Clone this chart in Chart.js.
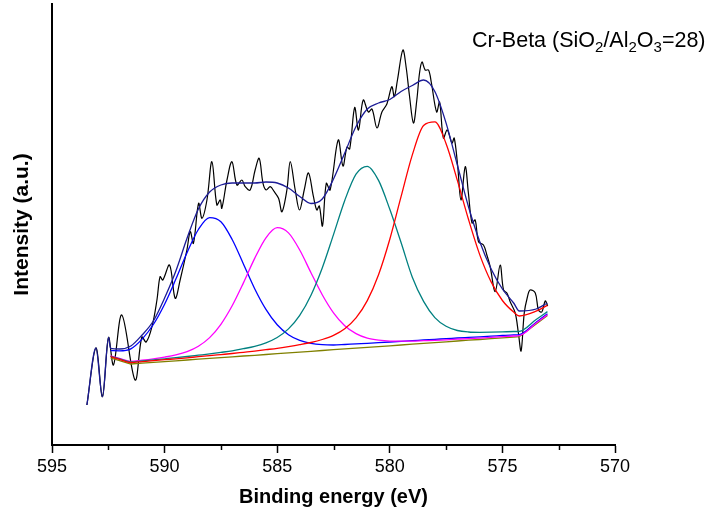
<!DOCTYPE html>
<html>
<head>
<meta charset="utf-8">
<script src="https://cdn.jsdelivr.net/npm/chart.js@4/dist/chart.umd.min.js"></script>
<style>
  html, body { margin: 0; padding: 0; background: #ffffff; }
  #c { display: block; }
</style>
</head>
<body>
<canvas id="c" width="707" height="521"></canvas>
<script>
// Cr 2p XPS spectrum of Cr-Beta with peak deconvolution.

// Measured spectrum: binding energy (eV) and intensity (a.u.)
const rawEnergy = [593.45, 593.05, 592.76, 592.49, 592.27, 591.90, 591.31, 591.01, 590.82, 590.56,
  590.34, 590.20, 590.08, 589.78, 589.53, 589.31, 589.01, 588.86, 588.72, 588.49,
  588.34, 588.12, 587.90, 587.68, 587.53, 587.46, 587.23, 587.01, 586.79, 586.57,
  586.42, 586.20, 585.98, 585.80, 585.63, 585.49, 585.31, 585.13, 584.94, 584.79,
  584.57, 584.42, 584.20, 584.01, 583.80, 583.61, 583.39, 583.24, 583.13, 582.99,
  582.82, 582.65, 582.29, 582.08, 581.90, 581.78, 581.56, 581.39, 581.18, 580.95,
  580.79, 580.57, 580.35, 580.13, 579.91, 579.80, 579.66, 579.42, 579.27, 579.13,
  578.95, 578.80, 578.68, 578.57, 578.43, 578.28, 578.16, 577.92, 577.79, 577.62,
  577.45, 577.24, 577.14, 576.99, 576.84, 576.65, 576.51, 576.35, 576.21, 576.06,
  575.84, 575.69, 575.54, 575.32, 575.10, 574.95, 574.80, 574.65, 574.43, 574.29,
  574.17, 574.03, 573.90, 573.77, 573.54, 573.40, 573.25, 573.10, 572.99];
const rawIntensity = [40, 97, 48.3, 107.5, 80, 130, 65, 108, 103, 118.3,
  145, 168.3, 165, 180, 146.7, 165, 195, 213.3, 201.7, 241.7,
  226.7, 245, 283.3, 240, 245, 236.7, 265, 283.3, 260, 265,
  258.3, 255, 275, 286.7, 261.7, 255, 258.3, 253.3, 246.7, 233.3,
  255, 283.3, 255, 235, 255, 272, 248.3, 235, 239, 219,
  261.7, 255, 305, 279, 298, 296, 337.5, 315, 345, 333,
  336, 317, 333, 341, 358.3, 348.3, 365, 395, 377, 350,
  322, 345, 372, 383, 375, 375, 363, 333, 343, 307,
  315, 302, 307, 280, 245, 278.3, 252, 222, 225, 203.3,
  200, 190, 178, 153.3, 180, 155, 152, 143, 132, 112,
  94, 132, 147, 155, 152, 135, 133, 144, 139];

// Fit range energies
const fitEnergy = [592.4, 592.0, 591.5, 591.0, 590.5, 590.0, 589.5, 589.0, 588.5, 588.0,
  587.5, 587.0, 586.5, 586.0, 585.5, 585.0, 584.5, 584.0, 583.5, 583.0,
  582.5, 582.0, 581.5, 581.0, 580.5, 580.0, 579.5, 579.0, 578.5, 578.0,
  577.5, 577.0, 576.5, 576.0, 575.5, 575.0, 574.5, 574.25, 573.5, 573.0];

// Background
const background = [87.0, 84.3, 81.0, 81.8, 82.6, 83.4, 84.2, 85.0, 85.8, 86.6,
  87.4, 88.2, 89.0, 89.7, 90.5, 91.3, 92.1, 92.9, 93.7, 94.5,
  95.3, 96.1, 96.9, 97.6, 98.4, 99.2, 100.0, 100.8, 101.6, 102.4,
  103.2, 104.0, 104.8, 105.5, 106.3, 107.1, 107.9, 108.3, 120.9, 129.4];

// Fitted components (on background)
const peak1 = [94.4, 94.2, 96.2, 105.9, 120.5, 140.8, 165.9, 192.6, 215.5, 227.4,
  223.2, 205.5, 181.1, 156.3, 135.6, 120.2, 110.3, 104.6, 101.6, 100.3,
  100.0, 100.5, 101.1, 101.6, 102.3, 103.0, 103.7, 104.4, 105.0, 105.7,
  106.3, 107.0, 107.6, 108.2, 108.8, 109.5, 110.1, 110.4, 122.8, 131.2];
const peak2 = [89.0, 86.6, 83.6, 84.8, 86.2, 87.9, 90.1, 93.4, 98.8, 107.4,
  120.7, 139.2, 162.1, 186.6, 207.2, 217.3, 212.1, 195.0, 172.3, 150.3,
  132.2, 119.3, 111.4, 106.9, 104.8, 103.9, 103.8, 103.9, 104.3, 104.7,
  105.2, 105.8, 106.4, 106.9, 107.6, 108.3, 109.0, 109.3, 121.9, 130.3];
const peak3 = [88.7, 86.2, 83.1, 84.1, 85.1, 86.2, 87.3, 88.5, 89.8, 91.1,
  92.6, 94.2, 96.3, 98.7, 102.2, 107.5, 116.1, 129.6, 149.8, 177.0,
  210.4, 244.6, 270.8, 278.7, 264.6, 235.7, 202.5, 167.8, 143.6, 127.4,
  118.7, 114.5, 113.0, 112.7, 112.8, 113.1, 113.5, 113.7, 125.5, 133.4];
const peak4 = [88.3, 85.7, 82.5, 83.4, 84.3, 85.3, 86.2, 87.2, 88.3, 89.3,
  90.4, 91.5, 92.7, 93.9, 95.3, 96.7, 98.4, 100.3, 102.5, 105.5,
  109.7, 116.3, 127.1, 144.4, 170.3, 205.8, 248.3, 290.1, 319.5, 323.1,
  301.3, 264.6, 225.2, 189.9, 163.1, 144.5, 132.9, 129.0, 133.8, 139.6];

// Envelope (sum of fit)
const envelope = [96.7, 96.0, 99.0, 110.0, 124.0, 147.0, 174.0, 207.0, 236.0, 253.0,
  260.0, 262.0, 262.0, 262.0, 263.0, 262.0, 257.0, 248.5, 241.5, 246.0,
  266.0, 292.0, 318.5, 336.0, 342.0, 345.5, 353.5, 359.5, 365.0, 353.5,
  321.9, 280.0, 237.8, 203.0, 176.0, 156.0, 142.0, 134.0, 136.0, 142.0];

// Axis ticks
const majorTicks = [595, 590, 585, 580, 575, 570];
const minorTicks = [592.5, 587.5, 582.5, 577.5, 572.5];

const FONT = "'Liberation Sans', Arial, Helvetica, sans-serif";

function pts(xs, ys) {
  return xs.map((x, i) => ({ x: x, y: ys[i] }));
}

// Envelope outside the fit window follows the measured points
const envHead = rawEnergy.map((e, i) => ({ x: e, y: rawIntensity[i] })).filter(p => p.x > fitEnergy[0]);
const envelopePts = envHead.concat(pts(fitEnergy, envelope));

function line(data, color, order, extra) {
  return Object.assign({
    data: data,
    borderColor: color,
    borderWidth: 1.3,
    pointRadius: 0,
    fill: false,
    cubicInterpolationMode: 'monotone',
    order: order
  }, extra || {});
}

const minorTickPlugin = {
  id: 'minorTicks',
  afterDraw(chart) {
    const xs = chart.scales.x;
    const ctx = chart.ctx;
    const y0 = chart.chartArea.bottom;
    ctx.save();
    ctx.strokeStyle = '#000';
    ctx.lineWidth = 1.5;
    minorTicks.forEach(v => {
      const px = Math.round(xs.getPixelForValue(v)) + 0.5;
      ctx.beginPath();
      ctx.moveTo(px, y0);
      ctx.lineTo(px, y0 + 5);
      ctx.stroke();
    });
    ctx.restore();
  }
};

// Sample label with subscripts
const labelParts = [
  { t: 'Cr-Beta (SiO', sub: false },
  { t: '2', sub: true },
  { t: '/Al', sub: false },
  { t: '2', sub: true },
  { t: 'O', sub: false },
  { t: '3', sub: true },
  { t: '=28)', sub: false }
];
const sampleLabelPlugin = {
  id: 'sampleLabel',
  afterDraw(chart) {
    const ctx = chart.ctx;
    ctx.save();
    ctx.fillStyle = '#000';
    ctx.textBaseline = 'alphabetic';
    let x = 472;
    const y = 47;
    labelParts.forEach(p => {
      ctx.font = (p.sub ? '15px ' : '21.5px ') + FONT;
      ctx.fillText(p.t, x, p.sub ? y + 5 : y);
      x += ctx.measureText(p.t).width;
    });
    ctx.restore();
  }
};

new Chart(document.getElementById('c'), {
  type: 'line',
  data: {
    datasets: [
      line(envelopePts, '#1c1c96', 0),
      line(pts(fitEnergy, peak4), '#ff0000', 1),
      line(pts(fitEnergy, peak3), '#008080', 2),
      line(pts(fitEnergy, peak2), '#ff00ff', 3),
      line(pts(fitEnergy, peak1), '#0000ff', 4),
      line(pts(fitEnergy, background), '#808000', 5, { cubicInterpolationMode: 'default', tension: 0 }),
      line(pts(rawEnergy, rawIntensity), '#000000', 6, { cubicInterpolationMode: 'default', tension: 0.35, borderWidth: 1.2 })
    ]
  },
  options: {
    responsive: false,
    animation: false,
    devicePixelRatio: 1,
    parsing: true,
    layout: { padding: { top: 4, right: 92, left: 0, bottom: 0 } },
    plugins: {
      legend: { display: false },
      tooltip: { enabled: false }
    },
    scales: {
      x: {
        type: 'linear',
        reverse: true,
        min: 570,
        max: 595,
        afterBuildTicks(scale) {
          scale.ticks = majorTicks.map(v => ({ value: v }));
        },
        ticks: {
          color: '#000',
          font: { family: FONT, size: 18 },
          padding: 3,
          maxRotation: 0,
          autoSkip: false
        },
        grid: {
          display: true,
          drawOnChartArea: false,
          drawTicks: true,
          tickLength: 8,
          tickColor: '#000',
          tickWidth: 1.5
        },
        border: { display: true, color: '#000', width: 2 },
        title: {
          display: true,
          text: 'Binding energy (eV)',
          color: '#000',
          font: { family: FONT, size: 20, weight: 'bold' },
          padding: { top: 0, bottom: 12 }
        },
        afterFit(scale) { scale.height = 76; }
      },
      y: {
        min: 0,
        max: 441,
        ticks: { display: false },
        grid: { display: false },
        border: { display: true, color: '#000', width: 2 },
        title: {
          display: true,
          text: 'Intensity (a.u.)',
          color: '#000',
          font: { family: FONT, size: 21, weight: 'bold' },
          padding: { top: 10, bottom: 0 }
        },
        afterFit(scale) { scale.width = 52; }
      }
    }
  },
  plugins: [minorTickPlugin, sampleLabelPlugin]
});
</script>
</body>
</html>
